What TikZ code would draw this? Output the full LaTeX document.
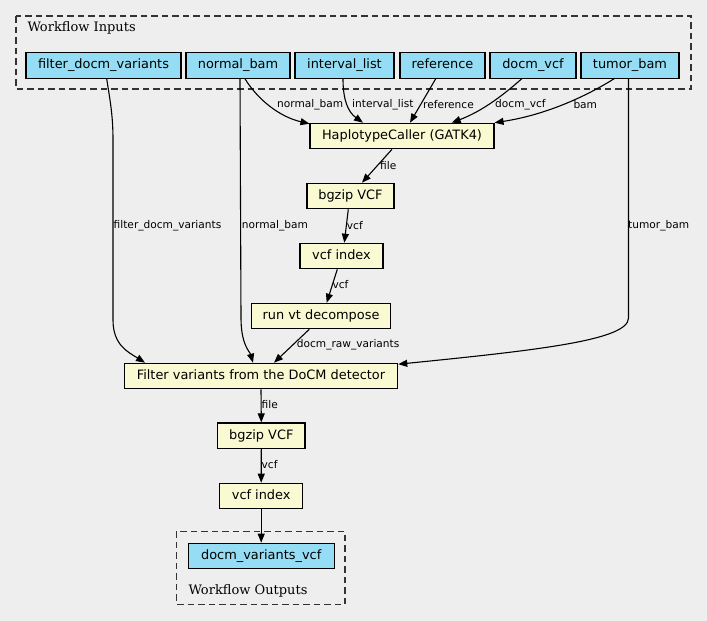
\documentclass[tikz,border=0pt]{standalone}
\usepackage{fontspec}
\setmainfont{DejaVu Sans}
\newfontfamily\clusterfont{DejaVu Serif}
\usetikzlibrary{arrows.meta}
\definecolor{bg}{HTML}{EEEEEE}
\definecolor{inputc}{HTML}{94DDF4}
\definecolor{stepc}{HTML}{FAFAD2}
\begin{document}
\begin{tikzpicture}[x=1pt,y=-1pt,
 box/.style={draw=black, line width=1.1pt, minimum height=25.5pt, inner sep=0pt, font=\fontsize{12.9}{14}\selectfont, text height=9.5pt, text depth=2.8pt},
 inbox/.style={box, fill=inputc},
 stepbox/.style={box, fill=stepc},
 cluster/.style={draw=black!80, dash pattern=on 6.5pt off 4pt, line width=1.1pt},
 clabel/.style={font=\clusterfont\fontsize{13}{15}\selectfont, anchor=west, inner sep=0pt},
 elabel/.style={font=\fontsize{10.6}{12}\selectfont, anchor=west, inner sep=0pt},
 edge/.style={line width=1.1pt, -{Triangle[length=9pt,width=7pt]}},
]
\fill[bg] (0,0) rectangle (707,621);
\useasboundingbox (0,0) rectangle (707,621);
% clusters
\draw[cluster] (16,16) rectangle (691,89);
\node[clabel] (inlab) at (27.3,28) {Workflow Inputs};
\draw[cluster] (176.7,531.3) rectangle (345,604.3);
\node[clabel] (outlab) at (188.3,591) {Workflow Outputs};
% input nodes
\node[inbox, minimum width=155pt] (fdv) at (103.5,65.5) {filter\_docm\_variants};
\node[inbox, minimum width=104pt] (nb) at (238,65.5) {normal\_bam};
\node[inbox, minimum width=99pt] (il) at (344.5,65.5) {interval\_list};
\node[inbox, minimum width=85pt] (ref) at (442.5,65.5) {reference};
\node[inbox, minimum width=86pt] (dv) at (533,65.5) {docm\_vcf};
\node[inbox, minimum width=98pt] (tb) at (630,65.5) {tumor\_bam};
% steps
\node[stepbox, minimum width=184pt] (hc) at (402,136) {HaplotypeCaller (GATK4)};
\node[stepbox, minimum width=87pt] (bg1) at (350.5,196) {bgzip VCF};
\node[stepbox, minimum width=83pt] (vi1) at (341.5,256) {vcf index};
\node[stepbox, minimum width=139pt] (vt) at (321,316) {run vt decompose};
\node[stepbox, minimum width=273.4pt] (flt) at (261,376) {Filter variants from the DoCM detector};
\node[stepbox, minimum width=87.3pt] (bg2) at (261.3,435.7) {bgzip VCF};
\node[stepbox, minimum width=83pt] (vi2) at (261.2,496) {vcf index};
% output
\node[inbox, minimum width=145.7pt] (out) at (261.2,556) {docm\_variants\_vcf};
% edges into HaplotypeCaller
\draw[edge] ([xshift=7pt]nb.south) .. controls (258,100) and (280,117) .. ([yshift=-1pt]hc.north west);
\node[elabel] (l1) at (277,105) {normal\_bam};
\draw[edge] ([xshift=-1.5pt]il.south) .. controls (343,100) and (348,112) .. ([xshift=-39pt]hc.north);
\node[elabel] (l2) at (352,105) {interval\_list};
\draw[edge] ([xshift=-6.8pt]ref.south) -- ([xshift=8pt]hc.north);
\node[elabel] (l3) at (423,105) {reference};
\draw[edge] ([xshift=-11.3pt]dv.south) .. controls (500,98) and (480,112) .. ([xshift=49.7pt]hc.north);
\node[elabel] (l4) at (495,105) {docm\_vcf};
\draw[edge] ([xshift=-16pt]tb.south) .. controls (585,97) and (545,115) .. (hc.north east);
\node[elabel] (l5) at (573.3,105) {bam};
% chain
\draw[edge] ([xshift=-10pt]hc.south) -- ([xshift=11.5pt]bg1.north);
\node[elabel] (l6) at (380,165.5) {file};
\draw[edge] ([xshift=-2.2pt]bg1.south) -- ([xshift=2.8pt]vi1.north);
\node[elabel] (l7) at (346.7,225.5) {vcf};
\draw[edge] ([xshift=-4.2pt]vi1.south) -- ([xshift=5.7pt]vt.north);
\node[elabel] (l8) at (332.3,285) {vcf};
\draw[edge] ([xshift=-11.7pt]vt.south) -- ([xshift=13pt]flt.north);
\node[elabel] (l9) at (296.7,345) {docm\_raw\_variants};
% long edges into Filter
\draw[edge] ([xshift=3.2pt]fdv.south) .. controls (110,100) and (113,115) .. (113,140) -- (113,320) .. controls (113,345) and (128,352) .. ([xshift=-116pt]flt.north);
\node[elabel] (l10) at (113.5,225.5) {filter\_docm\_variants};
\draw[edge] ([xshift=2pt]nb.south) -- (241,318) .. controls (241,345) and (250,352) .. ([xshift=-8pt]flt.north);
\node[elabel] (l11) at (241.7,225.5) {normal\_bam};
\draw[edge] ([xshift=-1.5pt]tb.south) -- (628.5,318) .. controls (628.5,340) and (540,350) .. ([yshift=-1.5pt]flt.north east);
\node[elabel] (l12) at (628,225.5) {tumor\_bam};
% lower chain
\draw[edge] (flt.south) -- (bg2.north);
\node[elabel] (l13) at (261.5,405) {file};
\draw[edge] (bg2.south) -- (vi2.north);
\node[elabel] (l14) at (261.5,465) {vcf};
\draw[edge] (vi2.south) -- (out.north);
\end{tikzpicture}
\end{document}
